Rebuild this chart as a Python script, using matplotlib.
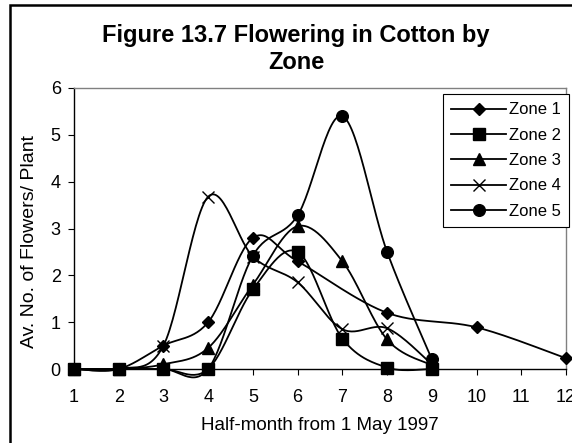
import numpy as np
import matplotlib
matplotlib.use("Agg")
import matplotlib.pyplot as plt
from matplotlib.lines import Line2D
from matplotlib.patches import Rectangle

plt.rcParams["font.family"] = ["Liberation Sans", "DejaVu Sans"]

# half-months from 1 May 1997
half_month = [1, 2, 3, 4, 5, 6, 7, 8, 9, 10, 11, 12]

# av. no. of flowers per plant (nan = no reading)
zone1 = [0, 0, 0.5, 1.0, 2.8, 2.3, np.nan, 1.2, np.nan, 0.89, np.nan, 0.23]
zone2 = [0, 0, 0, 0, 1.7, 2.5, 0.65, 0.03, 0]
zone3 = [0, 0, 0.1, 0.45, 1.8, 3.05, 2.3, 0.63, 0.08]
zone4 = [0, 0, 0.5, 3.68, 2.4, 1.85, 0.85, 0.87, 0.1]
zone5 = [0, 0, 0, 0, 2.42, 3.28, 5.4, 2.5, 0.21]

zone_names = ["Zone 1", "Zone 2", "Zone 3", "Zone 4", "Zone 5"]
markers = ["D", "s", "^", "x", "o"]
marker_sizes = [5.8, 8.0, 8.0, 8.6, 8.4]


def smooth(x, y, n=30):
    # excel-like smoothed line: catmull-rom through the points
    x = np.asarray(x, float)
    y = np.asarray(y, float)
    ok = ~np.isnan(y)
    x, y = x[ok], y[ok]
    px = np.concatenate([[x[0]], x, [x[-1]]])
    py = np.concatenate([[y[0]], y, [y[-1]]])
    xs, ys = [], []
    t = np.linspace(0, 1, n)
    for i in range(1, len(px) - 2):
        p0 = np.array([px[i], py[i]])
        p3 = np.array([px[i + 1], py[i + 1]])
        p1 = p0 + (np.array([px[i + 1], py[i + 1]]) - np.array([px[i - 1], py[i - 1]])) / 6
        p2 = p3 - (np.array([px[i + 2], py[i + 2]]) - np.array([px[i], py[i]])) / 6
        b = ((1 - t) ** 3)[:, None] * p0 + (3 * (1 - t) ** 2 * t)[:, None] * p1 \
            + (3 * (1 - t) * t ** 2)[:, None] * p2 + (t ** 3)[:, None] * p3
        xs.extend(b[:, 0])
        ys.extend(b[:, 1])
    return np.array(xs), np.array(ys)


fig = plt.figure(figsize=(5.72, 4.43), dpi=100)
ax = fig.add_axes([74 / 572, 1 - 369 / 443, 492 / 572, 281 / 443])

handles = []
for name, vals, m, ms in zip(zone_names, [zone1, zone2, zone3, zone4, zone5], markers, marker_sizes):
    xv = half_month[: len(vals)]
    sx, sy = smooth(xv, vals)
    ax.plot(sx, sy, color="black", lw=1.3, clip_on=False, zorder=3)
    ax.plot(xv, vals, linestyle="none", marker=m, ms=ms, color="black",
            mew=1.0, clip_on=False, zorder=4)
    handles.append(Line2D([], [], color="black", lw=1.3, marker=m, ms=ms, mew=1.0, label=name))

ax.set_xlim(1, 12)
ax.set_ylim(0, 6)
ax.set_xticks(half_month)
ax.set_yticks(range(0, 7))
ax.tick_params(direction="out", length=4.5, width=0.8, labelsize=13)
ax.tick_params(axis="x", pad=10)
ax.tick_params(axis="y", pad=5)
for s in ["left", "bottom"]:
    ax.spines[s].set_color("black")
    ax.spines[s].set_linewidth(1.0)
for s in ["top", "right"]:
    ax.spines[s].set_color("#808080")
    ax.spines[s].set_linewidth(1.0)

fig.text(320 / 572, 1 - 425 / 443, "Half-month from 1 May 1997",
         ha="center", va="center", fontsize=13.5)
fig.text(30 / 572, 1 - 241 / 443, "Av. No. of Flowers/ Plant", rotation=90,
         ha="center", va="center", fontsize=14)

fig.text(296 / 572, 1 - 49 / 443, "Figure 13.7 Flowering in Cotton by\nZone",
         ha="center", va="center", fontsize=17, fontweight="bold", linespacing=1.2)

leg = ax.legend(handles=handles, loc="upper right",
                bbox_to_anchor=(569 / 572, 1 - 94 / 443), bbox_transform=fig.transFigure,
                borderaxespad=0, fancybox=False, edgecolor="black", framealpha=1,
                fontsize=12, handlelength=3.3, handletextpad=0.15, labelspacing=0.62,
                borderpad=0.5)
leg.get_frame().set_linewidth(0.8)

# outer chart frame (right and bottom run off the picture)
fig.patches.append(Rectangle((10 / 572, -0.2), 1.2, 1.2 - 5 / 443, transform=fig.transFigure,
                             fill=False, edgecolor="black", lw=1.8))

fig.savefig("out.png", dpi=100)
plt.close(fig)
